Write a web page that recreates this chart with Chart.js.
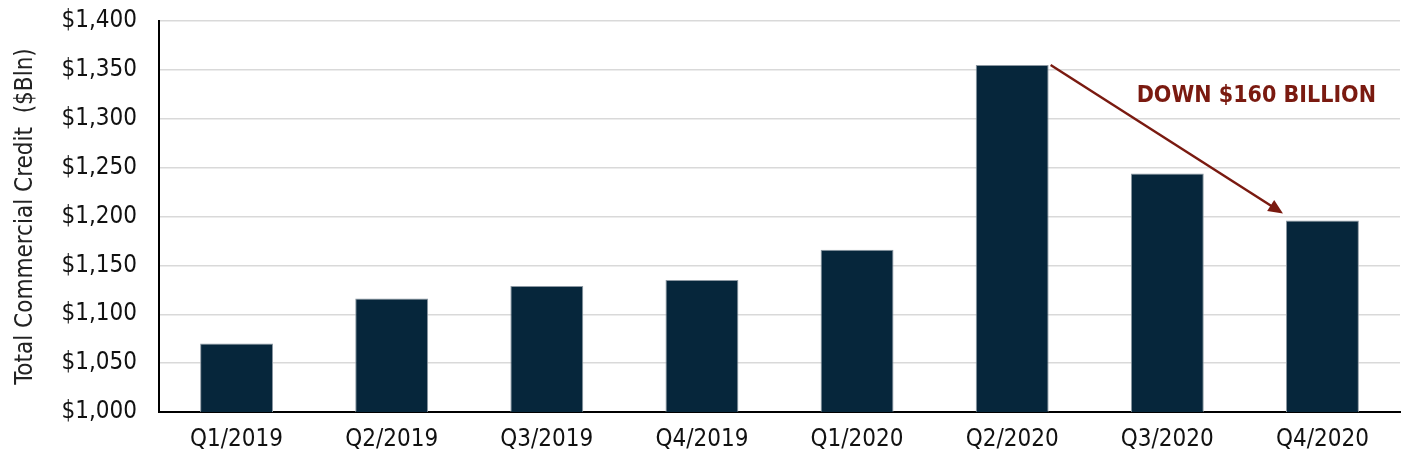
<!DOCTYPE html>
<html>
<head>
<meta charset="utf-8">
<script src="https://cdn.jsdelivr.net/npm/chart.js@4"></script>
<style>
  html, body { margin: 0; padding: 0; background: #fff; }
  #wrap { width: 1421px; height: 454px; }
</style>
</head>
<body>
<div id="wrap"><canvas id="creditChart" width="1421" height="454"></canvas></div>
<script>
const quarters = ['Q1/2019', 'Q2/2019', 'Q3/2019', 'Q4/2019', 'Q1/2020', 'Q2/2020', 'Q3/2020', 'Q4/2020'];
const credit = [1070, 1116, 1129, 1135, 1166, 1355, 1244, 1196];
const yTicks = [1000, 1050, 1100, 1150, 1200, 1250, 1300, 1350, 1400];
const noteText = 'DOWN $160 BILLION';

const arrowColor = '#7a1a10';
const fontFam = '"DejaVu Sans Condensed", "DejaVu Sans"';

// draws the "down" arrow from the Q2/2020 bar to the Q4/2020 bar
const arrowNote = {
    id: 'arrowNote',
    afterDatasetsDraw(chart) {
        const ctx = chart.ctx;
        const bars = chart.getDatasetMeta(0).data;
        const from = bars[5], to = bars[7];
        const x1 = from.x + from.width / 2 + 2;
        const y1 = from.y;
        const x2 = to.x - to.width / 2 - 3;
        const y2 = to.y - 7;
        const ang = Math.atan2(y2 - y1, x2 - x1);
        const head = 16;

        ctx.save();
        ctx.strokeStyle = arrowColor;
        ctx.fillStyle = arrowColor;
        ctx.lineWidth = 2.5;
        ctx.beginPath();
        ctx.moveTo(x1, y1);
        ctx.lineTo(x2 - Math.cos(ang) * head * 0.8, y2 - Math.sin(ang) * head * 0.8);
        ctx.stroke();
        ctx.beginPath();
        ctx.moveTo(x2, y2);
        ctx.lineTo(x2 - head * Math.cos(ang - 0.42), y2 - head * Math.sin(ang - 0.42));
        ctx.lineTo(x2 - head * Math.cos(ang + 0.42), y2 - head * Math.sin(ang + 0.42));
        ctx.closePath();
        ctx.fill();

        ctx.font = 'bold 23px ' + fontFam;
        ctx.textAlign = 'right';
        ctx.textBaseline = 'middle';
        ctx.fillText(noteText, chart.chartArea.right - 24, chart.scales.y.getPixelForValue(1323));
        ctx.restore();
    }
};

new Chart(document.getElementById('creditChart'), {
    type: 'bar',
    data: {
        labels: quarters,
        datasets: [{
            data: credit,
            backgroundColor: '#06263b',
            borderColor: '#8c98a2',
            borderWidth: 1,
            categoryPercentage: 1,
            barPercentage: 0.47
        }]
    },
    options: {
        responsive: false,
        animation: false,
        layout: { padding: { top: 21, right: 21, left: 0, bottom: 0 } },
        plugins: {
            legend: { display: false },
            tooltip: { enabled: false }
        },
        scales: {
            x: {
                grid: { display: false, drawTicks: false },
                border: { color: '#000', width: 2 },
                ticks: { color: '#111', font: { family: fontFam, size: 24 }, padding: 13 },
                afterFit(scale) { scale.height = 42; }
            },
            y: {
                min: 1000,
                max: 1400,
                afterBuildTicks(scale) { scale.ticks = yTicks.map(v => ({ value: v })); },
                grid: { color: '#d9d9d9', lineWidth: 1.5, drawTicks: false },
                border: { color: '#000', width: 2 },
                ticks: {
                    color: '#111',
                    font: { family: fontFam, size: 24 },
                    padding: 22,
                    callback: v => '$' + v.toLocaleString('en-US')
                },
                title: {
                    display: true,
                    text: 'Total Commercial Credit  ($Bln)',
                    color: '#222',
                    font: { family: fontFam, size: 24 },
                    padding: { top: 11, bottom: 0 }
                },
                afterFit(scale) {
                    scale.width = 159;
                    scale.paddingTop = 0;
                    scale.paddingBottom = 0;
                }
            }
        }
    },
    plugins: [arrowNote]
});
</script>
</body>
</html>
